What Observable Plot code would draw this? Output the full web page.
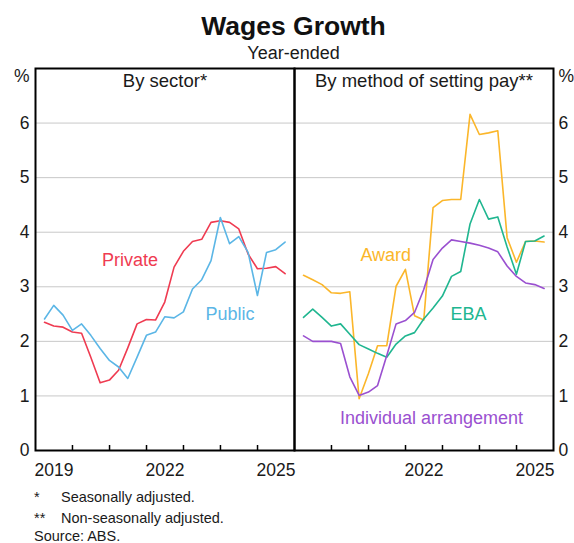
<!DOCTYPE html>
<html><head><meta charset="utf-8">
<script src="https://cdn.jsdelivr.net/npm/d3@7"></script>
<script src="https://cdn.jsdelivr.net/npm/@observablehq/plot@0.6"></script>
<style>
body{margin:0;background:#fff;font-family:"Liberation Sans",Arial,sans-serif;color:#1a1a1a}
#wrap{position:relative;width:574px;height:543px;overflow:hidden}
.t{position:absolute;white-space:nowrap;line-height:1}
#chart{position:absolute;left:0;top:0}
</style></head><body><div id="wrap">
<div id="chart"></div>
<div class="t" style="left:0;width:587px;text-align:center;top:12.6px;font-size:26.5px;font-weight:bold;color:#111">Wages Growth</div>
<div class="t" style="left:0;width:587px;text-align:center;top:43.8px;font-size:18px">Year-ended</div>
<div class="t" style="left:34px;top:489.7px;font-size:14.5px">*</div>
<div class="t" style="left:61px;top:489.7px;font-size:14.5px">Seasonally adjusted.</div>
<div class="t" style="left:34px;top:510.7px;font-size:14.5px">**</div>
<div class="t" style="left:61px;top:510.7px;font-size:14.5px">Non-seasonally adjusted.</div>
<div class="t" style="left:34px;top:528.7px;font-size:14.5px">Source: ABS.</div>
</div>
<script>
const panels = ["By sector*", "By method of setting pay**"];
const quarters = [
  "2019-03-31","2019-06-30","2019-09-30","2019-12-31",
  "2020-03-31","2020-06-30","2020-09-30","2020-12-31",
  "2021-03-31","2021-06-30","2021-09-30","2021-12-31",
  "2022-03-31","2022-06-30","2022-09-30","2022-12-31",
  "2023-03-31","2023-06-30","2023-09-30","2023-12-31",
  "2024-03-31","2024-06-30","2024-09-30","2024-12-31",
  "2025-03-31","2025-06-30","2025-09-30"
];
const privateSector = [2.35,2.28,2.26,2.17,2.15,1.71,1.24,1.29,1.47,1.88,2.32,2.40,2.39,2.72,3.36,3.65,3.83,3.87,4.18,4.21,4.18,4.06,3.60,3.33,3.34,3.37,3.24];
const publicSector  = [2.41,2.66,2.48,2.20,2.32,2.11,1.87,1.65,1.53,1.32,1.71,2.11,2.17,2.45,2.43,2.54,2.96,3.13,3.48,4.27,3.79,3.92,3.63,2.84,3.63,3.68,3.82];
const award         = [3.21,3.13,3.04,2.89,2.88,2.91,0.95,1.41,1.92,1.92,3.01,3.32,2.47,2.39,4.45,4.58,4.60,4.60,6.16,5.79,5.82,5.86,3.90,3.45,3.83,3.84,3.82];
const eba           = [2.44,2.59,2.44,2.28,2.32,2.13,1.94,1.86,1.78,1.71,1.95,2.10,2.16,2.41,2.61,2.83,3.19,3.28,4.15,4.60,4.24,4.28,3.73,3.23,3.83,3.84,3.93];
const individual    = [2.10,2.00,2.00,2.00,1.96,1.35,1.01,1.07,1.19,1.74,2.32,2.38,2.53,2.95,3.50,3.71,3.86,3.83,3.80,3.76,3.71,3.64,3.38,3.19,3.07,3.04,2.97];

const seriesNames  = ["Private", "Public", "Award", "EBA", "Individual arrangement"];
const seriesPanels = [panels[0], panels[0], panels[1], panels[1], panels[1]];
const seriesValues = [privateSector, publicSector, award, eba, individual];
const seriesColors = ["#ef3b51", "#5bb6e6", "#fbb62a", "#20b690", "#9a50d0"];

// label anchor positions (date, value) for series names
const labelDates  = ["2021-07-22", "2024-04-05", "2021-06-20", "2023-09-15", "2022-09-15"];
const labelValues = [3.49, 2.49, 3.58, 2.49, 0.585];

const yTicks = [0, 1, 2, 3, 4, 5, 6];
const gridValues = [1, 2, 3, 4, 5, 6];
const tickYears = ["2020","2021","2022","2023","2024","2025"];
const xLabelsLeft = ["2019", "2022", "2025"];
const xLabelsRight = ["2022", "2025"];

const rows = [];
seriesNames.forEach((s, k) => {
  quarters.forEach((q, i) => rows.push({series: s, panel: seriesPanels[k], date: new Date(q), value: seriesValues[k][i]}));
});
const labels = seriesNames.map((s, k) => ({name: s, panel: seriesPanels[k], date: new Date(labelDates[k]), value: labelValues[k], color: seriesColors[k]}));
const xLabelRows = [
  ...xLabelsLeft.map(y => ({panel: panels[0], label: y, date: new Date(y + "-07-02")})),
  ...xLabelsRight.map(y => ({panel: panels[1], label: y, date: new Date(y + "-07-02")}))
];

const chart = Plot.plot({
  width: 574, height: 485,
  marginLeft: 34, marginRight: 21, marginTop: 68, marginBottom: 35,
  style: {fontFamily: "Liberation Sans, Arial, sans-serif", fontSize: "17.5px", color: "#1a1a1a", background: "transparent", overflow: "visible"},
  x: {type: "utc", domain: [new Date("2019-01-01"), new Date("2026-01-01")], axis: null},
  y: {domain: [0, 7], axis: null, label: null},
  fx: {domain: panels, padding: 0, axis: null, label: null},
  color: {domain: seriesNames, range: seriesColors},
  marks: [
    Plot.ruleY(gridValues, {stroke: "#c8c8c8", strokeWidth: 1}),
    Plot.lineY(rows, {x: "date", y: "value", z: "series", stroke: "series", fx: "panel", strokeWidth: 1.6}),
    Plot.text(labels, {x: "date", y: "value", text: "name", fill: "color", fx: "panel", fontSize: 18}),
    Plot.frame({stroke: "#000", strokeWidth: 2}),
    Plot.ruleX(tickYears, {x: d => new Date(d + "-01-01"), y1: 0, y2: 0, insetBottom: 5, stroke: "#000", strokeWidth: 1.5}),
    Plot.text(panels, {fx: d => d, text: d => d, frameAnchor: "top", dy: 13, lineAnchor: "middle", fontSize: 18.5}),
    Plot.axisY({anchor: "left", ticks: yTicks, tickFormat: d3.format("d"), tickSize: 0, tickPadding: 6, label: null}),
    Plot.axisY({anchor: "right", ticks: yTicks, tickFormat: d3.format("d"), tickSize: 0, tickPadding: 5, label: null}),
    Plot.text(["%"], {fx: () => panels[0], frameAnchor: "top-left", dx: -6, dy: 8, textAnchor: "end", lineAnchor: "middle"}),
    Plot.text(["%"], {fx: () => panels[1], frameAnchor: "top-right", dx: 5, dy: 8, textAnchor: "start", lineAnchor: "middle"}),
    Plot.text(xLabelRows, {x: "date", y: () => 0, text: "label", fx: "panel", dy: 20, lineAnchor: "middle"})
  ]
});
document.getElementById("chart").appendChild(chart);
</script>
</body></html>
